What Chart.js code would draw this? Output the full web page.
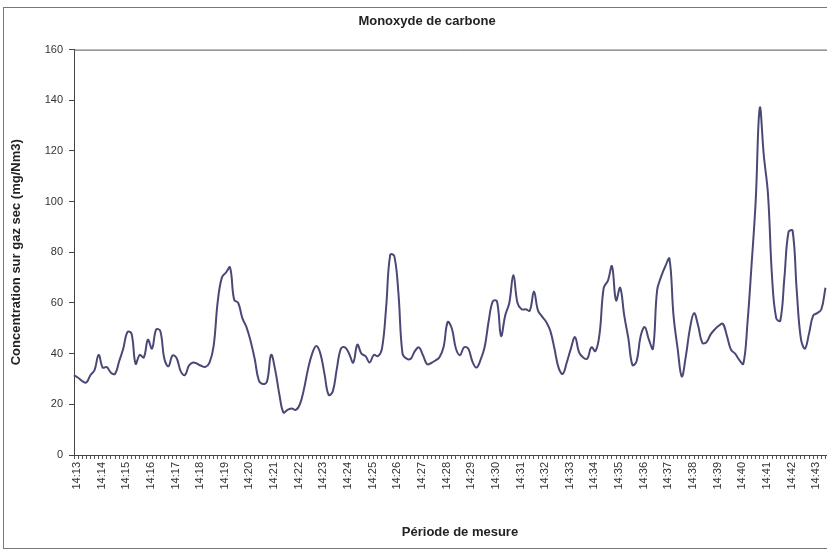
<!DOCTYPE html>
<html>
<head>
<meta charset="utf-8">
<script src="https://cdn.jsdelivr.net/npm/chart.js@4/dist/chart.umd.min.js"></script>
<style>
    html, body { margin: 0; padding: 0; background: #fff; overflow: hidden; width: 827px; height: 552px; }
    #frame { position: absolute; left: 3px; top: 7px; width: 860px; height: 540px; border: 1px solid #777; }
    #wrap { position: absolute; left: 0; top: 0; width: 870px; height: 552px; }
</style>
</head>
<body>
<div id="frame"></div>
<div id="wrap"><canvas id="CO" width="870" height="552"></canvas></div>
<script>
// one reading every 10 s
var minuteLabels = ['14:13', '14:14', '14:15', '14:16', '14:17', '14:18', '14:19', '14:20', '14:21', '14:22',
    '14:23', '14:24', '14:25', '14:26', '14:27', '14:28', '14:29', '14:30', '14:31', '14:32',
    '14:33', '14:34', '14:35', '14:36', '14:37', '14:38', '14:39', '14:40', '14:41', '14:42', '14:43', '14:44']
var seconds = ['00', '10', '20', '30', '40', '50']

var concentration = [
    31.5, 30.5, 29.2, 28.6, 31.5, 33.5, 39.5, 34.5, 34.7, 32.5,
    32, 37, 42, 48.5, 48, 36, 39.5, 38.5, 45.5, 42,
    49.5, 49, 38, 35, 39.3, 38.2, 33, 31.5, 35.3, 36.5,
    36, 35.2, 34.8, 36.5, 43, 60.5, 70, 72, 74, 61.3,
    60, 54, 50.5, 45, 38, 29.5, 28, 29, 39.5, 33.5,
    24, 16.8, 17.8, 18.4, 17.8, 20, 26, 34, 40, 43,
    40, 32, 23.7, 25, 34, 42, 42.5, 40, 36.5, 43.5,
    40, 39, 36.5, 39.5, 39, 42, 58, 79, 78.5, 64,
    40, 38, 38, 41, 42.5, 39.3, 35.8, 36.3, 37.3, 38.6,
    42.6, 52.5, 50, 42, 39.4, 42.5, 42, 37, 34.5, 37.5,
    42.6, 53, 60.7, 60.7, 47, 55, 60, 71, 60, 57.5,
    57.5, 57, 64.5, 57, 54.6, 52.5, 49, 42, 34.5, 32,
    36.5, 42, 46.5, 40.5, 38.5, 38, 42.5, 41, 48, 66,
    68.7, 74.5, 61, 66, 55, 46, 35.5, 37, 47, 50.5,
    45.5, 42, 65, 70.5, 74.5, 77.5, 55, 42, 31, 39,
    50, 56, 51, 44.3, 44.5, 47.5, 49.5, 51, 51.8, 47,
    41.5, 40, 37.5, 36, 52, 75, 100, 137, 118, 103,
    70, 54, 53, 70, 88, 88.5, 65, 46, 42, 48,
    55, 56, 57.5, 66
]

// time axis runs to 14:44:20
var categories = []
minuteLabels.forEach(function (m) {
    seconds.forEach(function (s) { categories.push(m + ':' + s) })
})
categories.length = 189

var FONT = 'Liberation Sans, Arial, sans-serif'

// thin frame on top and right of the plot area
var plotFrame = {
    id: 'plotFrame',
    afterDraw: function (chart) {
        var a = chart.chartArea
        var ctx = chart.ctx
        ctx.save()
        ctx.strokeStyle = '#555'
        ctx.lineWidth = 1
        ctx.beginPath()
        ctx.moveTo(a.left, a.top + 0.5)
        ctx.lineTo(a.right + 0.5, a.top + 0.5)
        ctx.lineTo(a.right + 0.5, a.bottom)
        ctx.stroke()
        ctx.restore()
    }
}

var ctx = document.getElementById('CO').getContext('2d')
var myChart = new Chart(ctx, {
    type: 'line',
    data: {
        labels: categories,
        datasets: [{
            data: concentration,
            borderColor: '#4a4876',
            borderWidth: 2,
            pointRadius: 0,
            tension: 0.4,
            fill: false
        }]
    },
    options: {
        responsive: false,
        animation: false,
        layout: { padding: { left: 8, top: 6, right: 24, bottom: 8 } },
        plugins: {
            legend: { display: false },
            tooltip: { enabled: false },
            title: {
                display: true,
                text: 'Monoxyde de carbone',
                color: '#222',
                font: { family: FONT, size: 13, weight: 'bold' },
                padding: { top: 8, bottom: 20 }
            }
        },
        scales: {
            x: {
                type: 'category',
                offset: false,
                afterFit: function (scale) { scale.height = 89 },
                grid: { drawOnChartArea: false, drawTicks: true, tickLength: 4, color: '#555' },
                border: { color: '#444', width: 1 },
                ticks: {
                    autoSkip: false,
                    minRotation: 90,
                    maxRotation: 90,
                    padding: 3,
                    labelOffset: 3,
                    color: '#333',
                    font: { family: FONT, size: 11 },
                    callback: function (value, index) {
                        var lbl = categories[index]
                        return lbl.endsWith(':00') ? lbl.slice(0, 5) : ''
                    }
                },
                title: {
                    display: true,
                    text: 'Période de mesure',
                    color: '#222',
                    font: { family: FONT, size: 13, weight: 'bold' },
                    padding: { top: 0, bottom: 4 }
                }
            },
            y: {
                min: 0,
                max: 160,
                afterFit: function (scale) { scale.width = 66 },
                grid: { drawOnChartArea: false, drawTicks: true, tickLength: 5, color: '#444' },
                border: { color: '#444', width: 1 },
                ticks: {
                    stepSize: 20,
                    padding: 6,
                    color: '#333',
                    font: { family: FONT, size: 11 }
                },
                title: {
                    display: true,
                    text: 'Concentration sur gaz sec (mg/Nm3)',
                    color: '#222',
                    font: { family: FONT, size: 13, weight: 'bold' },
                    padding: { top: 1, bottom: 0 }
                }
            }
        }
    },
    plugins: [plotFrame]
})
</script>
</body>
</html>
